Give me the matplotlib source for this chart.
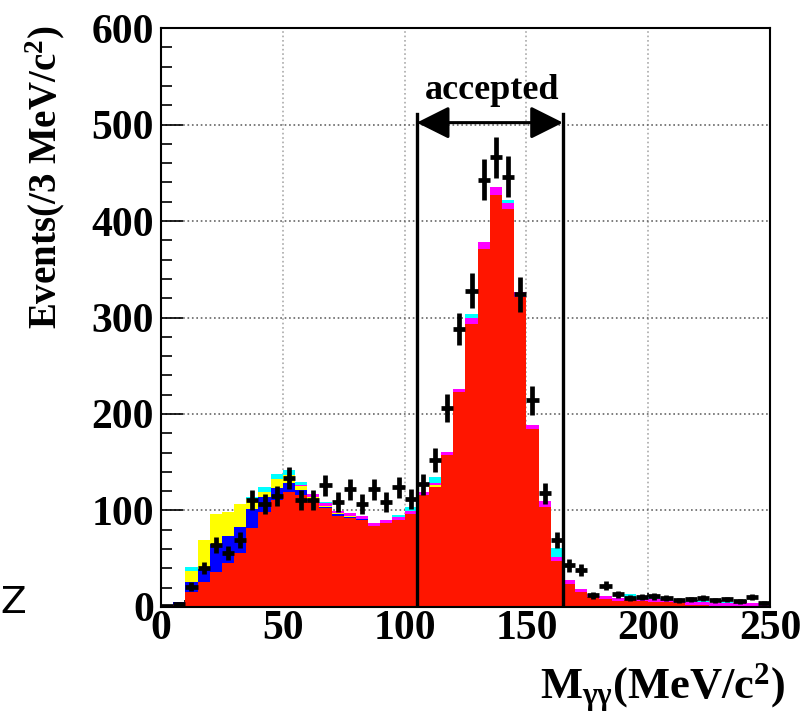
import numpy as np
import matplotlib
matplotlib.use('Agg')
import matplotlib.pyplot as plt
from matplotlib.patches import FancyArrowPatch

# 5 MeV bins from 0 to 250
bin_width = 5
n_bins = 50

# stacked MC components (events per bin), bottom to top
red = [1, 2, 15, 26, 36, 46, 56, 82, 98, 111,
       119, 116, 110, 103, 94, 92, 90, 84, 87, 90,
       96, 116, 124, 157, 223, 293, 371, 427, 412, 321,
       184, 104, 48, 24, 15, 10, 8, 6, 7, 6,
       5, 5, 4, 2, 2, 1, 1, 1, 1, 1]
blue = [0, 3, 11, 13, 29, 28, 27, 20, 16, 12,
        9, 5, 2, 1, 2, 1, 1, 0, 0, 0,
        0, 0, 0, 0, 0, 0, 0, 0, 0, 0,
        0, 0, 0, 0, 0, 0, 0, 0, 0, 0,
        0, 0, 0, 0, 0, 0, 0, 0, 0, 0]
yellow = [0, 0, 11, 30, 31, 24, 24, 10, 5, 10,
          9, 4, 2, 1, 1, 1, 0, 0, 0, 0,
          0, 0, 2, 0, 0, 0, 0, 0, 0, 0,
          0, 0, 0, 0, 0, 0, 0, 0, 0, 0,
          0, 0, 0, 0, 0, 0, 0, 0, 0, 0]
magenta = [0, 0, 0, 0, 0, 0, 0, 0, 0, 0,
           0, 1, 3, 3, 2, 3, 3, 3, 3, 3,
           3, 3, 2, 4, 3, 7, 7, 8, 7, 5,
           5, 6, 4, 4, 4, 3, 3, 3, 2, 2,
           3, 3, 2, 3, 3, 3, 3, 3, 3, 3]
cyan = [0, 0, 4, 0, 0, 0, 0, 2, 5, 5,
        5, 4, 0, 1, 0, 0, 0, 0, 0, 2,
        5, 0, 7, 0, 0, 4, 0, 0, 3, 0,
        0, 0, 9, 0, 0, 0, 0, 0, 4, 2,
        2, 1, 1, 1, 1, 0, 1, 0, 0, 0]

# data points
data = [1, 3, 21, 40, 64, 56, 69, 111, 107, 115,
        134, 111, 111, 126, 109, 122, 107, 122, 109, 124,
        112, 127, 152, 206, 288, 328, 443, 466, 446, 324,
        214, 118, 69, 43, 38, 12, 22, 13, 9, 10,
        11, 9, 7, 8, 9, 7, 8, 6, 10, 4]

# mass window
window = [105, 165]

plt.rcParams['mathtext.fontset'] = 'custom'
plt.rcParams['mathtext.rm'] = 'Liberation Serif:bold'
plt.rcParams['mathtext.it'] = 'Liberation Serif:bold'
plt.rcParams['mathtext.bf'] = 'Liberation Serif:bold'
plt.rcParams['font.family'] = 'Liberation Serif'
plt.rcParams['font.weight'] = 'bold'

fig = plt.figure(figsize=(8.05, 7.2), dpi=100)
ax = fig.add_axes([0.2, 0.157, 0.7565, 0.804])

edges = np.arange(n_bins + 1) * bin_width
centers = edges[:-1] + bin_width / 2

# stack the components
layers = [(red, '#ff1500'), (blue, '#0000ff'), (yellow, '#ffff00'),
          (magenta, '#ff00ff'), (cyan, '#00ffff')]
bottom = np.zeros(n_bins)
for vals, col in layers:
    top = bottom + np.array(vals, dtype=float)
    ax.stairs(top, edges, baseline=bottom, fill=True, color=col, lw=0, zorder=2)
    bottom = top

# data with poisson errors
data = np.array(data, dtype=float)
ax.errorbar(centers, data, yerr=np.sqrt(data), xerr=bin_width / 2, fmt='none',
            ecolor='black', elinewidth=3.4, capsize=0, zorder=4)

# accepted window
for w in window:
    ax.plot([w, w], [0, 511], color='black', lw=2.4, zorder=5)
arrow = FancyArrowPatch((window[0], 502), (window[1], 502),
                        arrowstyle='<|-|>,head_length=1.0,head_width=0.5',
                        mutation_scale=20, color='black', lw=2.2, zorder=5,
                        shrinkA=0, shrinkB=0)
ax.add_patch(arrow)
ax.text(136, 527, 'accepted', ha='center', va='baseline', fontsize=26,
        fontweight='bold', zorder=6)

ax.set_xlim(0, 250)
ax.set_ylim(0, 600)
ax.set_xticks([0, 50, 100, 150, 200, 250])
ax.set_yticks([0, 100, 200, 300, 400, 500, 600])
ax.set_xticks(np.arange(0, 251, 10), minor=True)
ax.set_yticks(np.arange(0, 601, 20), minor=True)
ax.tick_params(axis='both', which='both', direction='in', top=False, right=False)
ax.tick_params(axis='x', which='major', length=10, width=1.2, labelsize=30, pad=2)
ax.tick_params(axis='x', which='minor', length=5, width=1.2)
ax.tick_params(axis='y', which='major', length=16, width=1.2, labelsize=30, pad=5)
ax.tick_params(axis='y', which='minor', length=8, width=1.2)
for lab in ax.get_xticklabels() + ax.get_yticklabels():
    lab.set_fontweight('bold')

ax.set_axisbelow(True)
ax.xaxis.grid(True, which='major', ls=':', color='#aaaaaa', lw=1.2)
ax.yaxis.grid(True, which='major', ls=':', color='#666666', lw=1.2)
for s in ax.spines.values():
    s.set_linewidth(1.5)

ax.set_xlabel(r'M$_{\gamma\gamma}$(MeV/c$^{2}$)', fontsize=32, fontweight='bold', loc='right')
ax.xaxis.set_label_coords(1.025, -0.095)
ax.set_ylabel(r'Events(/3 MeV/c$^{2}$)', fontsize=28, fontweight='bold', loc='top')
ax.yaxis.set_label_coords(-0.155, 1.005)

# stray glyph at the left edge of the original picture
fig.text(0.001, 0.163, 'Z', fontsize=27, family='DejaVu Sans', fontweight='normal',
         va='center', ha='left')

fig.savefig('out.png', dpi=100)
